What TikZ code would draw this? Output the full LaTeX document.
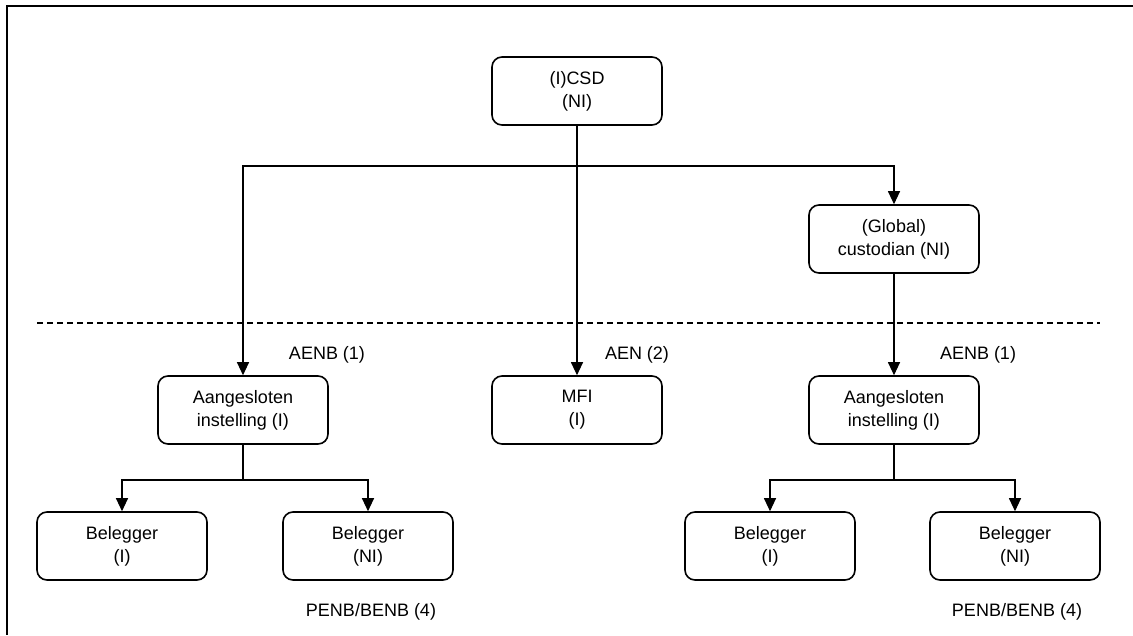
\documentclass[tikz,border=0pt]{standalone}
\usepackage{fontspec}
\setmainfont{Liberation Sans}
\usetikzlibrary{arrows.meta}

\begin{document}
\begin{tikzpicture}
	[x=1pt,y=-1pt,>={Triangle[length=13pt,width=12pt]},
		line width=1.1pt,
		font=\fontsize{18}{23}\selectfont,
		entity/.style={draw,rectangle,rounded corners=10pt,line width=1.6pt,
			minimum width=170pt,minimum height=68pt,align=center,inner sep=2pt},
		tag/.style={inner sep=0pt}]

    \useasboundingbox (0,0) rectangle (1133,635);
    \draw[line width=1.8pt] (1133,6) -- (7,6) -- (7,635);

    % top level
    \node[entity] (csd) at (577,91) {(I)CSD\\(NI)};
    \node[entity] (cust) at (894,239) {(Global)\\custodian (NI)};

    % middle level
    \node[entity] (instL) at (243,410) {Aangesloten\\instelling (I)};
    \node[entity] (mfi) at (577,410) {MFI\\(I)};
    \node[entity] (instR) at (894,410) {Aangesloten\\instelling (I)};

    % bottom level
    \node[entity] (belL1) at (122,546) {Belegger\\(I)};
    \node[entity] (belL2) at (368,546) {Belegger\\(NI)};
    \node[entity] (belR1) at (770,546) {Belegger\\(I)};
    \node[entity] (belR2) at (1015,546) {Belegger\\(NI)};

    \node[tag] (aenbL) at (327,355) {AENB (1)};
    \node[tag] (aen) at (637,355) {AEN (2)};
    \node[tag] (aenbR) at (978,355) {AENB (1)};
    \node[tag] (penbL) at (371,612) {PENB/BENB (4)};
    \node[tag] (penbR) at (1017,612) {PENB/BENB (4)};

    \coordinate (split) at (577,166);
    \coordinate (forkL) at (243,480);
    \coordinate (forkR) at (894,480);
    \coordinate (dashA) at (37,323);
    \coordinate (dashB) at (1100,323);

    \draw[dash pattern=on 6pt off 4pt] (dashA) -- (dashB);

	\draw[->] (csd) -- (mfi);
	\draw[->] (split) -| (instL);
	\draw[->] (split) -| (cust);
	\draw[->] (cust) -- (instR);

	\draw (instL) -- (forkL);
	\draw[->] (forkL) -| (belL1);
	\draw[->] (forkL) -| (belL2);
	\draw (instR) -- (forkR);
	\draw[->] (forkR) -| (belR1);
	\draw[->] (forkR) -| (belR2);

\end{tikzpicture}
\end{document}
